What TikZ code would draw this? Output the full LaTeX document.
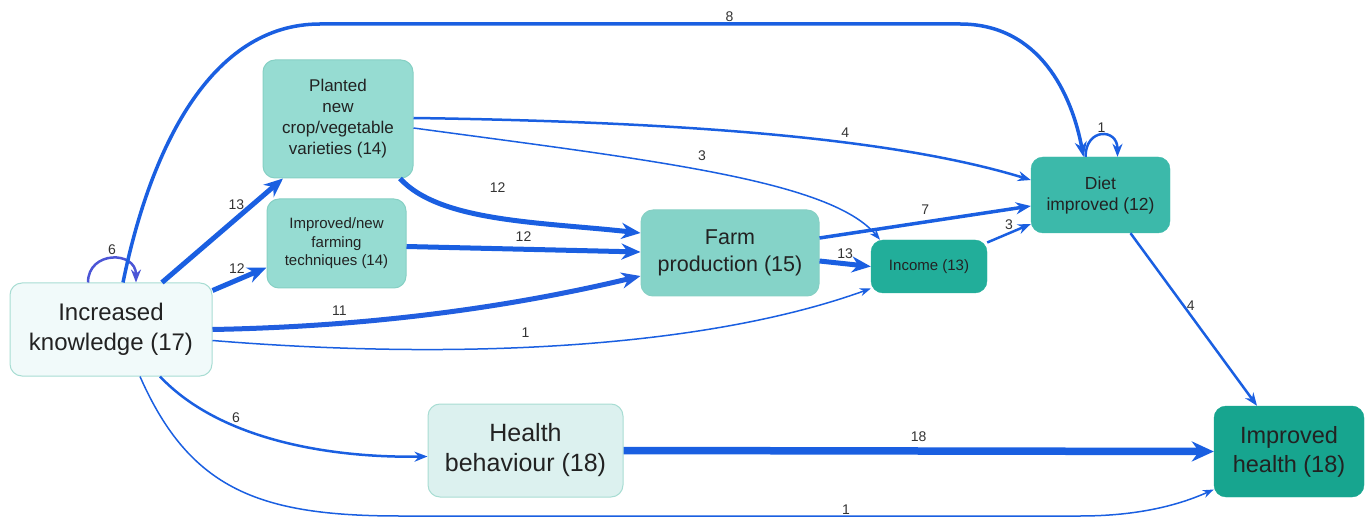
\documentclass[tikz,border=0pt]{standalone}
\usepackage{fontspec}
\setmainfont{Liberation Sans}
\usetikzlibrary{arrows.meta,calc}
\definecolor{eblue}{HTML}{1A5FE1}
\definecolor{epurp}{HTML}{4B55D6}
\definecolor{ikfill}{HTML}{F1FAFA}
\definecolor{lightdraw}{HTML}{A8DDD3}
\definecolor{midfill}{HTML}{96DCD2}
\definecolor{middraw}{HTML}{86D0C4}
\definecolor{farmfill}{HTML}{85D3C8}
\definecolor{incfill}{HTML}{22AE9A}
\definecolor{dietfill}{HTML}{3CB9AA}
\definecolor{hbfill}{HTML}{DCF1EF}
\definecolor{ihfill}{HTML}{17A58F}
\definecolor{txt}{HTML}{222222}
\tikzset{
  box/.style={rectangle, rounded corners=12pt, align=center, text=txt, inner sep=2pt},
  e1/.style={draw=eblue, line width=1.5pt, -{Stealth[length=11pt,width=8pt]}},
  e2/.style={draw=eblue, line width=2.5pt, -{Stealth[length=13pt,width=10pt]}},
  e3/.style={draw=eblue, line width=3.5pt, -{Stealth[length=15pt,width=12pt]}},
  e5/.style={draw=eblue, line width=5pt, -{Stealth[length=19pt,width=16pt]}},
  e7/.style={draw=eblue, line width=7.5pt, -{Stealth[length=22pt,width=20pt]}},
  lab/.style={text=black!80, font=\fontsize{14}{16}\selectfont, inner sep=1pt}
}
\begin{document}
\begin{tikzpicture}[x=1pt,y=-1pt]
\useasboundingbox (0,0) rectangle (1370,518);
% nodes
\node[box, fill=ikfill, draw=lightdraw, line width=1pt, minimum width=202pt, minimum height=93pt, font=\fontsize{24}{30}\selectfont] (ik) at (111,329.5) {Increased\\knowledge (17)};
\node[box, fill=midfill, draw=middraw, line width=1pt, minimum width=150pt, minimum height=118pt, font=\fontsize{17}{21}\selectfont] (pl) at (338,119) {Planted\\new\\crop/vegetable\\varieties (14)};
\node[box, fill=midfill, draw=middraw, line width=1pt, minimum width=139pt, minimum height=89pt, font=\fontsize{15}{18.5}\selectfont] (ft) at (336.5,243.5) {Improved/new\\farming\\techniques (14)};
\node[box, fill=farmfill, draw=middraw, line width=1pt, minimum width=178pt, minimum height=86pt, font=\fontsize{21.5}{27}\selectfont] (fp) at (730,253) {Farm\\production (15)};
\node[box, fill=incfill, draw=incfill, minimum width=116pt, minimum height=53pt, font=\fontsize{15}{18}\selectfont] (inc) at (929,266.5) {Income (13)};
\node[box, fill=dietfill, draw=dietfill, minimum width=139pt, minimum height=76pt, font=\fontsize{17.5}{21}\selectfont] (di) at (1100.5,195) {Diet\\improved (12)};
\node[box, fill=hbfill, draw=lightdraw, line width=1pt, minimum width=195pt, minimum height=93pt, font=\fontsize{25}{30}\selectfont] (hb) at (525.5,450.5) {Health\\behaviour (18)};
\node[box, fill=ihfill, draw=ihfill, minimum width=150pt, minimum height=91pt, font=\fontsize{23.5}{29}\selectfont] (ih) at (1289,451.5) {Improved\\health (18)};
% edges (note: y axis points down, so yshift>0 moves up)
\draw[e2, draw=epurp] ([xshift=-23pt]ik.north) .. controls +(0,-32) and +(0,-32) .. ([xshift=25pt]ik.north) node[lab, pos=0.5, above=2pt] {6};
\draw[e3] ([xshift=12pt]ik.north) .. controls (150,150) and (210,24) .. (320,24) -- (960,24) node[lab, pos=0.64, above=0pt] {8} .. controls (1040,24) and (1072,95) .. ([xshift=-17pt]di.north);
\draw[e5] ([xshift=51pt]ik.north) -- ([xshift=-55pt]pl.south) node[lab, pos=0.75, left=5pt] {13};
\draw[e5] ([yshift=39pt]ik.east) -- ([yshift=-24pt]ft.west) node[lab, pos=0.45, above=3pt] {12};
\draw[e5, draw=eblue!85!epurp] (ik.east) .. controls (400,326) and (540,300) .. ([yshift=-23pt]fp.west) node[lab, pos=0.24, above=4pt] {11};
\draw[e1] ([yshift=-11pt]ik.east) .. controls (450,360) and (700,350) .. ([yshift=-22pt]inc.west) node[lab, pos=0.44, above=8pt] {1};
\draw[e2] ([xshift=49pt]ik.south) .. controls (220,440) and (330,458) .. ([yshift=-6pt]hb.west) node[lab, pos=0.34, above=2pt] {6};
\draw[e1] ([xshift=29pt]ik.south) .. controls (190,490) and (260,516) .. (400,516) -- (1080,516) node[lab, pos=0.656, above=0pt] {1} .. controls (1150,516) and (1190,500) .. ([yshift=-38pt]ih.west);
\draw[e2] ([yshift=1pt]pl.east) .. controls (700,122) and (900,140) .. ([yshift=15pt]di.west) node[lab, pos=0.61, above=3pt] {4};
\draw[e1] ([yshift=-9pt]pl.east) .. controls (650,160) and (830,180) .. ([xshift=-49pt]inc.north) node[lab, pos=0.47, above=8pt] {3};
\draw[e5] ([xshift=62pt]pl.south) .. controls (440,222) and (540,222) .. ([yshift=20pt]fp.west) node[lab, pos=0.5, above=22pt] {12};
\draw[e5] ([yshift=-3pt]ft.east) -- ([yshift=1pt]fp.west) node[lab, midway, above=4pt] {12};
\draw[e3] ([yshift=15pt]fp.east) -- ([yshift=-11pt]di.west) node[lab, midway, above=5pt] {7};
\draw[e5] ([yshift=-8pt]fp.east) -- (inc.west) node[lab, midway, above=2pt] {13};
\draw[e2] ([yshift=24pt]inc.east) -- ([yshift=-29pt]di.west) node[lab, midway, above=1pt] {3};
\draw[e2] ([xshift=-15pt]di.north) .. controls +(0,-29) and +(0,-29) .. ([xshift=17pt]di.north) node[lab, pos=0.5, above=0pt] {1};
\draw[e2] ([xshift=30pt]di.south) -- ([xshift=-32pt]ih.north) node[lab, pos=0.42, right=1pt] {4};
\draw[e7] (hb.east) -- (ih.west) node[lab, midway, above=5pt] {18};
\end{tikzpicture}
\end{document}
